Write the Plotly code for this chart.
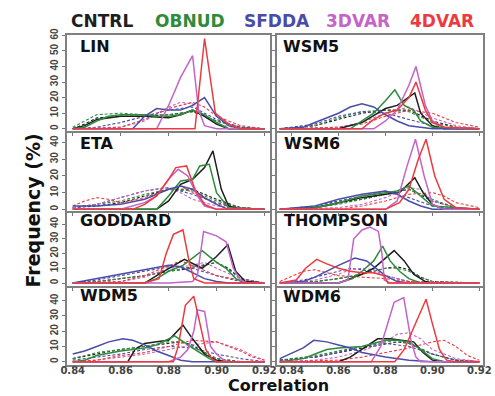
import plotly.graph_objects as go

SERIES = ["CNTRL", "OBNUD", "SFDDA", "3DVAR", "4DVAR"]
COLORS = {"CNTRL": "#1e1e1e", "OBNUD": "#2e8b3a", "SFDDA": "#4b4ba8",
          "3DVAR": "#c463c8", "4DVAR": "#ec3b3f"}
PANELS = ["LIN", "WSM5", "ETA", "WSM6", "GODDARD", "THOMPSON", "WDM5", "WDM6"]
X_TICKS = [0.84, 0.86, 0.88, 0.90, 0.92]
X_TICK_LABELS = ["0.84", "0.86", "0.88", "0.90", "0.92"]

# ---- data: (correlation, frequency %) vertices ----
LIN_SOLID = {
    "CNTRL": [(0.84,0),(0.845,2),(0.85,6),(0.86,8),(0.87,8),(0.88,7),(0.885,9),(0.89,12),(0.895,8),(0.9,3),(0.905,0),(0.92,0)],
    "OBNUD": [(0.84,0),(0.845,1),(0.85,5),(0.855,8),(0.86,9),(0.87,9),(0.875,8),(0.88,8),(0.885,9),(0.89,12),(0.895,9),(0.9,4),(0.905,0),(0.92,0)],
    "SFDDA": [(0.84,0),(0.865,0),(0.87,8),(0.875,13),(0.88,12),(0.885,12),(0.89,15),(0.895,20),(0.9,8),(0.905,2),(0.91,0),(0.92,0)],
    "3DVAR": [(0.84,0),(0.875,0),(0.88,15),(0.885,33),(0.89,47),(0.8925,12),(0.895,2),(0.9,0),(0.92,0)],
    "4DVAR": [(0.84,0),(0.891,0),(0.895,58),(0.8995,10),(0.905,3),(0.91,0),(0.92,0)],
}
LIN_DASHED = {
    "CNTRL": [(0.84,0),(0.845,3),(0.85,7),(0.86,8),(0.87,8),(0.88,9),(0.89,11),(0.9,5),(0.91,1),(0.92,0)],
    "OBNUD": [(0.84,1),(0.845,5),(0.85,9),(0.86,10),(0.87,9),(0.88,9),(0.89,11),(0.9,5),(0.91,1),(0.92,0)],
    "SFDDA": [(0.84,0),(0.85,1),(0.86,4),(0.87,8),(0.88,12),(0.89,14),(0.9,6),(0.91,1),(0.92,0)],
    "3DVAR": [(0.84,0),(0.86,1),(0.87,5),(0.88,14),(0.885,17),(0.89,16),(0.895,8),(0.9,3),(0.91,0),(0.92,0)],
    "4DVAR": [(0.84,0),(0.86,1),(0.87,6),(0.88,13),(0.89,17),(0.895,14),(0.9,8),(0.91,2),(0.92,0)],
}
WSM5_SOLID = {
    "CNTRL": [(0.835,0),(0.86,0),(0.87,4),(0.88,13),(0.885,15),(0.89,20),(0.8925,23),(0.895,10),(0.9,2),(0.905,0),(0.92,0)],
    "OBNUD": [(0.835,0),(0.865,0),(0.87,5),(0.875,10),(0.88,18),(0.884,25),(0.888,15),(0.892,12),(0.895,5),(0.9,1),(0.92,0)],
    "SFDDA": [(0.835,0),(0.845,1),(0.85,4),(0.86,10),(0.865,14),(0.87,16),(0.875,14),(0.88,9),(0.885,5),(0.89,2),(0.9,0),(0.92,0)],
    "3DVAR": [(0.835,0),(0.875,0),(0.88,5),(0.885,12),(0.89,28),(0.893,40),(0.897,15),(0.9,5),(0.905,1),(0.92,0)],
    "4DVAR": [(0.835,0),(0.87,0),(0.875,6),(0.88,10),(0.885,12),(0.89,20),(0.893,30),(0.897,12),(0.9,4),(0.905,1),(0.92,0)],
}
WSM5_DASHED = {
    "CNTRL": [(0.835,0),(0.85,2),(0.86,6),(0.87,10),(0.88,12),(0.89,12),(0.9,5),(0.91,1),(0.92,0)],
    "OBNUD": [(0.835,0),(0.85,2),(0.86,7),(0.87,11),(0.88,12),(0.89,11),(0.9,4),(0.91,1),(0.92,0)],
    "SFDDA": [(0.835,0),(0.85,3),(0.86,8),(0.87,11),(0.88,10),(0.89,6),(0.9,2),(0.91,0),(0.92,0)],
    "3DVAR": [(0.835,0),(0.86,1),(0.87,4),(0.88,10),(0.89,14),(0.9,7),(0.91,2),(0.92,0)],
    "4DVAR": [(0.835,0),(0.86,1),(0.87,3),(0.88,8),(0.89,12),(0.9,10),(0.91,4),(0.92,1)],
}
ETA_SOLID = {
    "CNTRL": [(0.84,0),(0.875,0),(0.88,5),(0.885,15),(0.89,18),(0.895,25),(0.8985,35),(0.902,12),(0.905,2),(0.91,0),(0.92,0)],
    "OBNUD": [(0.84,0),(0.875,0),(0.88,8),(0.885,17),(0.89,18),(0.893,26),(0.897,27),(0.9,10),(0.905,1),(0.92,0)],
    "SFDDA": [(0.84,2),(0.85,2),(0.86,3),(0.87,6),(0.88,12),(0.885,14),(0.89,12),(0.895,7),(0.9,3),(0.905,0),(0.92,0)],
    "3DVAR": [(0.84,0),(0.86,0),(0.87,4),(0.875,8),(0.88,18),(0.884,24),(0.888,20),(0.892,8),(0.895,2),(0.9,0),(0.92,0)],
    "4DVAR": [(0.84,0),(0.865,0),(0.87,3),(0.875,8),(0.88,18),(0.883,25),(0.8875,26),(0.891,12),(0.895,3),(0.9,0),(0.92,0)],
}
ETA_DASHED = {
    "CNTRL": [(0.84,1),(0.85,2),(0.86,4),(0.87,8),(0.88,12),(0.89,12),(0.9,6),(0.91,1),(0.92,0)],
    "OBNUD": [(0.84,1),(0.85,3),(0.86,5),(0.87,9),(0.88,12),(0.89,11),(0.9,5),(0.91,1),(0.92,0)],
    "SFDDA": [(0.84,1),(0.85,3),(0.86,7),(0.87,11),(0.88,13),(0.89,9),(0.9,4),(0.91,1),(0.92,0)],
    "3DVAR": [(0.84,1),(0.85,3),(0.86,7),(0.87,11),(0.878,13),(0.885,10),(0.89,6),(0.9,2),(0.91,0),(0.92,0)],
    "4DVAR": [(0.84,2),(0.845,5),(0.85,7),(0.855,6),(0.86,4),(0.87,7),(0.88,12),(0.885,14),(0.89,10),(0.9,3),(0.91,1),(0.92,0)],
}
WSM6_SOLID = {
    "CNTRL": [(0.835,0),(0.85,1),(0.86,4),(0.87,7),(0.88,9),(0.886,10),(0.8925,19),(0.896,10),(0.9,3),(0.905,0),(0.92,0)],
    "OBNUD": [(0.835,0),(0.85,1),(0.86,4),(0.87,8),(0.88,10),(0.885,11),(0.89,14),(0.895,8),(0.9,2),(0.92,0)],
    "SFDDA": [(0.835,0),(0.85,2),(0.86,6),(0.87,9),(0.88,11),(0.885,9),(0.89,5),(0.895,2),(0.9,0),(0.92,0)],
    "3DVAR": [(0.835,0),(0.88,0),(0.885,5),(0.889,25),(0.8928,42),(0.8965,20),(0.9,3),(0.905,0),(0.92,0)],
    "4DVAR": [(0.835,0),(0.88,0),(0.886,4),(0.89,12),(0.894,30),(0.8973,42),(0.901,20),(0.905,6),(0.91,1),(0.92,0)],
}
WSM6_DASHED = {
    "CNTRL": [(0.835,0),(0.85,1),(0.86,4),(0.87,6),(0.88,9),(0.89,12),(0.9,5),(0.91,1),(0.92,0)],
    "OBNUD": [(0.835,0),(0.85,1),(0.86,3),(0.87,6),(0.88,9),(0.89,12),(0.9,6),(0.91,1),(0.92,0)],
    "SFDDA": [(0.835,0),(0.85,2),(0.86,5),(0.87,8),(0.88,11),(0.89,7),(0.9,2),(0.91,0),(0.92,0)],
    "3DVAR": [(0.835,0),(0.86,1),(0.87,3),(0.88,7),(0.89,13),(0.895,12),(0.9,5),(0.91,1),(0.92,0)],
    "4DVAR": [(0.835,0),(0.86,0),(0.87,2),(0.88,5),(0.89,9),(0.9,10),(0.905,8),(0.91,4),(0.92,1)],
}
GODDARD_SOLID = {
    "CNTRL": [(0.84,0),(0.87,0),(0.875,5),(0.88,10),(0.8866,16),(0.894,10),(0.9,18),(0.9047,26),(0.908,8),(0.912,1),(0.92,0)],
    "OBNUD": [(0.84,0),(0.87,0),(0.875,3),(0.88,8),(0.886,12),(0.894,22),(0.9,14),(0.904,10),(0.908,3),(0.912,0),(0.92,0)],
    "SFDDA": [(0.84,0),(0.85,3),(0.86,6),(0.87,9),(0.88,12),(0.885,11),(0.89,7),(0.895,3),(0.9,1),(0.905,0),(0.92,0)],
    "3DVAR": [(0.84,0),(0.88,0),(0.89,1),(0.892,5),(0.8946,35),(0.9,32),(0.904,28),(0.907,10),(0.91,2),(0.913,0),(0.92,0)],
    "4DVAR": [(0.84,0),(0.87,0),(0.876,3),(0.879,20),(0.882,33),(0.886,36),(0.8885,15),(0.8905,3),(0.895,0),(0.92,0)],
}
GODDARD_DASHED = {
    "CNTRL": [(0.84,0),(0.85,1),(0.86,3),(0.87,5),(0.88,8),(0.89,10),(0.9,14),(0.905,10),(0.91,3),(0.92,0)],
    "OBNUD": [(0.84,0),(0.85,1),(0.86,3),(0.87,5),(0.88,8),(0.89,11),(0.9,14),(0.905,9),(0.91,3),(0.92,0)],
    "SFDDA": [(0.84,0),(0.85,2),(0.86,5),(0.87,8),(0.88,11),(0.89,10),(0.9,5),(0.91,1),(0.92,0)],
    "3DVAR": [(0.84,0),(0.86,1),(0.87,4),(0.88,10),(0.89,12),(0.895,14),(0.9,10),(0.91,3),(0.92,0)],
    "4DVAR": [(0.84,0),(0.86,1),(0.87,5),(0.88,12),(0.885,15),(0.89,12),(0.9,5),(0.91,2),(0.92,0)],
}
THOMPSON_SOLID = {
    "CNTRL": [(0.835,0),(0.86,0),(0.865,3),(0.87,6),(0.875,10),(0.88,17),(0.8837,22),(0.888,15),(0.892,6),(0.897,1),(0.9,0),(0.92,0)],
    "OBNUD": [(0.835,0),(0.86,0),(0.866,3),(0.87,8),(0.875,15),(0.8788,25),(0.882,15),(0.886,8),(0.89,3),(0.895,0),(0.92,0)],
    "SFDDA": [(0.835,0),(0.845,1),(0.85,4),(0.855,8),(0.86,12),(0.867,17),(0.872,15),(0.876,10),(0.88,5),(0.885,1),(0.89,0),(0.92,0)],
    "3DVAR": [(0.835,0),(0.86,0),(0.864,2),(0.8665,30),(0.87,36),(0.8734,38),(0.877,35),(0.8785,20),(0.8795,2),(0.882,0),(0.92,0)],
    "4DVAR": [(0.835,0),(0.842,2),(0.846,10),(0.8507,16),(0.855,13),(0.86,10),(0.865,8),(0.87,7),(0.875,7),(0.8795,5),(0.881,0),(0.92,0)],
}
THOMPSON_DASHED = {
    "CNTRL": [(0.835,0),(0.85,1),(0.86,3),(0.87,6),(0.88,10),(0.885,11),(0.89,9),(0.895,4),(0.9,1),(0.92,0)],
    "OBNUD": [(0.835,0),(0.85,1),(0.86,3),(0.87,6),(0.88,10),(0.885,10),(0.89,8),(0.895,4),(0.9,1),(0.92,0)],
    "SFDDA": [(0.835,0),(0.845,2),(0.85,4),(0.86,8),(0.865,10),(0.87,9),(0.88,5),(0.89,1),(0.9,0),(0.92,0)],
    "3DVAR": [(0.835,0),(0.85,2),(0.86,6),(0.865,9),(0.87,10),(0.875,9),(0.88,5),(0.89,1),(0.92,0)],
    "4DVAR": [(0.835,1),(0.845,8),(0.85,9),(0.855,7),(0.86,5),(0.87,4),(0.88,3),(0.89,1),(0.92,0)],
}
WDM5_SOLID = {
    "CNTRL": [(0.84,0),(0.863,0),(0.866,8),(0.87,12),(0.875,13),(0.88,14),(0.886,24),(0.89,15),(0.895,5),(0.9,1),(0.905,0),(0.92,0)],
    "OBNUD": [(0.84,0),(0.845,1),(0.85,4),(0.86,7),(0.87,9),(0.875,11),(0.8825,17),(0.887,12),(0.892,7),(0.897,2),(0.9,0),(0.92,0)],
    "SFDDA": [(0.84,5),(0.845,7),(0.85,10),(0.855,13),(0.861,15),(0.865,14),(0.87,11),(0.875,7),(0.88,4),(0.885,1),(0.89,0),(0.92,0)],
    "3DVAR": [(0.84,0),(0.88,0),(0.885,3),(0.888,8),(0.8905,20),(0.892,34),(0.895,33),(0.8975,10),(0.9,5),(0.903,1),(0.905,0),(0.92,0)],
    "4DVAR": [(0.84,0),(0.882,0),(0.884,10),(0.887,37),(0.8905,43),(0.893,25),(0.8955,8),(0.898,2),(0.9,0),(0.92,0)],
}
WDM5_DASHED = {
    "CNTRL": [(0.84,2),(0.85,5),(0.86,8),(0.87,10),(0.88,12),(0.885,13),(0.89,11),(0.895,6),(0.9,2),(0.91,0),(0.92,0)],
    "OBNUD": [(0.84,2),(0.85,6),(0.86,8),(0.87,10),(0.88,13),(0.885,13),(0.89,10),(0.895,6),(0.9,2),(0.91,0),(0.92,0)],
    "SFDDA": [(0.84,1),(0.85,3),(0.86,5),(0.87,8),(0.88,10),(0.89,9),(0.9,5),(0.91,2),(0.92,0)],
    "3DVAR": [(0.84,0),(0.85,1),(0.86,3),(0.87,5),(0.88,8),(0.89,11),(0.9,13),(0.91,8),(0.915,4),(0.92,1)],
    "4DVAR": [(0.84,0),(0.85,1),(0.86,4),(0.87,6),(0.88,10),(0.89,14),(0.9,13),(0.91,7),(0.915,3),(0.92,1)],
}
WDM6_SOLID = {
    "CNTRL": [(0.835,0),(0.86,0),(0.865,3),(0.87,8),(0.8767,15),(0.882,15),(0.887,14),(0.892,13),(0.896,6),(0.9,1),(0.905,0),(0.92,0)],
    "OBNUD": [(0.835,0),(0.845,2),(0.85,5),(0.855,8),(0.86,9),(0.87,10),(0.88,14),(0.885,14),(0.89,13),(0.895,8),(0.9,2),(0.905,0),(0.92,0)],
    "SFDDA": [(0.835,2),(0.845,9),(0.8495,14),(0.855,13),(0.86,11),(0.865,9),(0.87,6),(0.88,3),(0.89,1),(0.9,0),(0.92,0)],
    "3DVAR": [(0.835,0),(0.874,0),(0.878,10),(0.8837,39),(0.8878,42),(0.891,13),(0.893,3),(0.895,0),(0.92,0)],
    "4DVAR": [(0.835,0),(0.884,0),(0.888,8),(0.892,22),(0.8973,41),(0.9,25),(0.903,8),(0.906,1),(0.91,0),(0.92,0)],
}
WDM6_DASHED = {
    "CNTRL": [(0.835,1),(0.85,3),(0.86,6),(0.87,9),(0.88,12),(0.885,13),(0.89,12),(0.9,5),(0.91,1),(0.92,0)],
    "OBNUD": [(0.835,1),(0.85,4),(0.86,7),(0.87,10),(0.88,13),(0.885,14),(0.89,12),(0.9,5),(0.91,1),(0.92,0)],
    "SFDDA": [(0.835,1),(0.85,3),(0.86,6),(0.87,10),(0.88,12),(0.89,10),(0.9,5),(0.91,1),(0.92,0)],
    "3DVAR": [(0.835,0),(0.85,1),(0.86,3),(0.87,7),(0.88,13),(0.885,18),(0.89,19),(0.895,15),(0.9,8),(0.91,2),(0.92,0)],
    "4DVAR": [(0.835,0),(0.86,1),(0.87,3),(0.88,6),(0.89,9),(0.9,13),(0.905,14),(0.91,10),(0.915,4),(0.92,1)],
}

PANEL_DATA = {
    "LIN": (LIN_SOLID, LIN_DASHED), "WSM5": (WSM5_SOLID, WSM5_DASHED),
    "ETA": (ETA_SOLID, ETA_DASHED), "WSM6": (WSM6_SOLID, WSM6_DASHED),
    "GODDARD": (GODDARD_SOLID, GODDARD_DASHED), "THOMPSON": (THOMPSON_SOLID, THOMPSON_DASHED),
    "WDM5": (WDM5_SOLID, WDM5_DASHED), "WDM6": (WDM6_SOLID, WDM6_DASHED),
}
Y_TICKS = [[0, 10, 20, 30, 40, 50, 60], [0, 10, 20, 30, 40], [0, 10, 20, 30, 40], [0, 10, 20, 30, 40]]

# ---- layout geometry (pixels) ----
W, H = 495, 396
COL_PX = [(62, 272), (279, 492)]
X_RANGES = [[0.8376, 0.9224], [0.8338, 0.9216]]
ROW_PX = [(28, 126), (128, 208), (210, 284), (286, 364)]
Y_RANGES = [[-1.3, 60.6], [-1.2, 45.9], [-2.0, 47.3], [-1.9, 48.4]]
LABEL_POS = {"LIN": (73, 40), "WSM5": (283, 40), "ETA": (73, 139), "WSM6": (284, 139),
             "GODDARD": (73, 217), "THOMPSON": (284, 217), "WDM5": (73, 294), "WDM6": (283, 295)}
FONT = "DejaVu Sans"
TICK_FONT = "Liberation Sans"

fig = go.Figure()
layout = dict(width=W, height=H, margin=dict(l=0, r=0, t=0, b=0),
              paper_bgcolor="white", plot_bgcolor="white", showlegend=False)
annotations = []

for i, name in enumerate(PANELS):
    row, col = i // 2, i % 2
    k = i + 1
    xa = "x" if k == 1 else f"x{k}"
    ya = "y" if k == 1 else f"y{k}"
    solid, dashed = PANEL_DATA[name]
    for style, group in (("dash", dashed), ("solid", solid)):
        for s in SERIES:
            pts = group[s]
            fig.add_trace(go.Scatter(
                x=[p[0] for p in pts], y=[p[1] for p in pts], mode="lines",
                line=dict(color=COLORS[s], width=1.1 if style == "dash" else 1.5,
                          dash="3px,2px" if style == "dash" else "solid"),
                xaxis=xa, yaxis=ya, hoverinfo="skip"))
    x0, x1 = COL_PX[col]
    y0, y1 = ROW_PX[row]
    layout[f"xaxis{k if k > 1 else ''}"] = dict(
        domain=[x0 / W, x1 / W], range=X_RANGES[col], anchor=ya,
        tickvals=X_TICKS, ticktext=X_TICK_LABELS, showticklabels=(row == 3),
        ticks="outside", ticklen=3, tickcolor="#777", showgrid=False, zeroline=False,
        showline=True, mirror=True, linecolor="#808080", linewidth=1.5,
        ticklabelstandoff=-7,
        tickfont=dict(family=FONT, size=10, color="#444", weight="bold"))
    layout[f"yaxis{k if k > 1 else ''}"] = dict(
        domain=[1 - y1 / H, 1 - y0 / H], range=Y_RANGES[row], anchor=xa,
        tickvals=Y_TICKS[row], showticklabels=(col == 0), tickangle=-90,
        ticks="outside", ticklen=3, tickcolor="#777", showgrid=False, zeroline=False,
        showline=True, mirror=True, linecolor="#808080", linewidth=1.5,
        tickfont=dict(family=TICK_FONT, size=10, color="#444", weight="bold"))
    lx, ly = LABEL_POS[name]
    annotations.append(dict(text=name, x=lx / W, y=1 - ly / H, xref="paper", yref="paper",
                            xanchor="left", yanchor="middle", showarrow=False,
                            font=dict(family=FONT, size=16, color="#111", weight="bold")))

LEGEND_X = {"CNTRL": 98, "OBNUD": 189, "SFDDA": 279, "3DVAR": 363, "4DVAR": 450}
for s in SERIES:
    annotations.append(dict(text=s, x=LEGEND_X[s] / W, y=1 - 14 / H, xref="paper", yref="paper",
                            xanchor="center", yanchor="middle", showarrow=False,
                            font=dict(family=FONT, size=17, color=COLORS[s], weight="bold")))

annotations.append(dict(text="Frequency (%)", x=27 / W, y=1 - 207 / H, xref="paper", yref="paper",
                        xanchor="center", yanchor="middle", textangle=-90, showarrow=False,
                        font=dict(family=FONT, size=19, color="#111", weight="bold")))
annotations.append(dict(text="Correlation", x=281 / W, y=0, xref="paper", yref="paper",
                        xanchor="center", yanchor="bottom", showarrow=False, borderpad=0,
                        font=dict(family=FONT, size=16, color="#111", weight="bold")))
layout["annotations"] = annotations
fig.update_layout(**layout)
fig.write_html("out.html", config={"displayModeBar": False},
               post_script="document.body.style.margin='0px';")
